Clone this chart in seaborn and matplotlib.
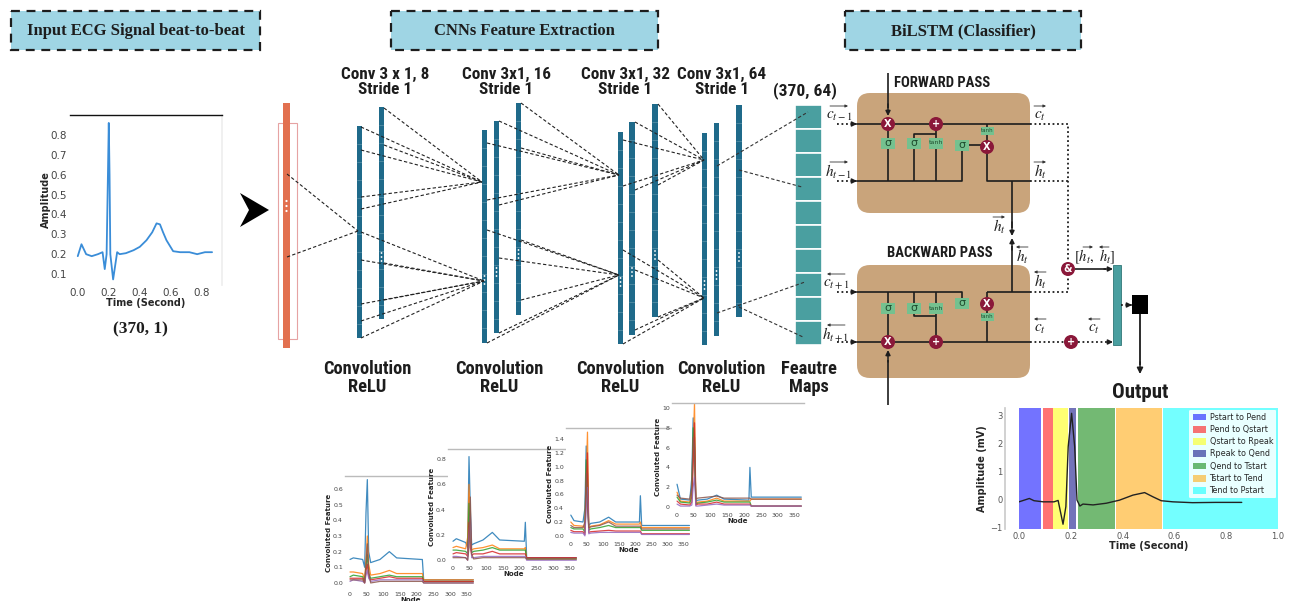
import matplotlib
matplotlib.use("Agg")
import matplotlib.pyplot as plt
import seaborn as sns
import pandas as pd
from matplotlib import font_manager
from matplotlib.patches import Rectangle, FancyBboxPatch, Circle, Polygon, Patch

# ---------------- data ----------------
# input beat (seconds, normalised amplitude)
ecg_time = [0.0, 0.024, 0.054, 0.09, 0.13, 0.16, 0.174, 0.186, 0.195, 0.2, 0.205,
            0.21, 0.228, 0.254, 0.27, 0.31, 0.36, 0.4, 0.443, 0.48, 0.508, 0.53,
            0.55, 0.572, 0.615, 0.66, 0.72, 0.77, 0.82, 0.866]
ecg_amp = [0.19, 0.25, 0.20, 0.19, 0.20, 0.21, 0.125, 0.20, 0.62, 0.86, 0.60,
           0.20, 0.073, 0.21, 0.20, 0.205, 0.22, 0.237, 0.27, 0.31, 0.355, 0.35,
           0.31, 0.27, 0.215, 0.21, 0.21, 0.20, 0.21, 0.21]

# segmented output beat (seconds, mV)
out_time = [0.0, 0.04, 0.058, 0.094, 0.135, 0.151, 0.17, 0.181, 0.19, 0.203, 0.215,
            0.224, 0.235, 0.247, 0.286, 0.337, 0.388, 0.44, 0.485, 0.517, 0.549,
            0.594, 0.67, 0.76, 0.86]
out_amp = [-0.10, 0.02, -0.06, -0.10, -0.10, -0.05, -0.90, -0.27, 1.87, 3.06, 1.87,
           -0.04, -0.25, -0.18, -0.21, -0.15, -0.04, 0.14, 0.23, 0.08, -0.06,
           -0.10, -0.13, -0.12, -0.12]

segment_labels = ["Pstart to Pend", "Pend to Qstart", "Qstart to Rpeak", "Rpeak to Qend",
                  "Qend to Tstart", "Tstart to Tend", "Tend to Pstart"]
segment_start = [0.0, 0.093, 0.133, 0.194, 0.227, 0.375, 0.556]
segment_end = [0.086, 0.131, 0.191, 0.222, 0.370, 0.551, 1.0]
segment_colors = ["blue", "red", "yellow", "navy", "green", "orange", "cyan"]

conv_titles = ["Conv 3 x 1, 8\nStride 1", "Conv 3x1, 16\nStride 1",
               "Conv 3x1, 32\nStride 1", "Conv 3x1, 64\nStride 1"]

# convolved feature maps sampled at shared node positions
feature_nodes = [0, 10, 38, 44, 48, 52, 56, 62, 90, 118, 140, 214, 217, 221, 370]
conv1_maps = [
    [0.15, 0.16, 0.15, 0.10, 0.45, 0.66, 0.20, 0.13, 0.15, 0.20, 0.16, 0.15, 0.15, 0.02, 0.02],
    [0.07, 0.07, 0.06, 0.02, 0.15, 0.30, 0.12, 0.05, 0.06, 0.08, 0.06, 0.06, 0.06, 0.02, 0.02],
    [0.04, 0.05, 0.04, 0.01, 0.10, 0.18, 0.06, 0.03, 0.04, 0.05, 0.04, 0.04, 0.04, 0.01, 0.01],
    [0.03, 0.03, 0.03, 0.00, 0.08, 0.12, 0.04, 0.02, 0.03, 0.04, 0.03, 0.03, 0.03, 0.01, 0.01],
    [0.01, 0.02, 0.01, 0.00, 0.05, 0.08, 0.03, 0.01, 0.02, 0.02, 0.02, 0.02, 0.02, 0.00, 0.00],
    [0.02, 0.02, 0.02, 0.00, 0.12, 0.25, 0.08, 0.00, 0.01, 0.01, 0.01, 0.01, 0.01, 0.00, 0.00],
]
conv2_maps = [
    [0.15, 0.17, 0.14, 0.10, 0.82, 0.40, 0.12, 0.13, 0.16, 0.22, 0.16, 0.15, 0.30, 0.02, 0.02],
    [0.10, 0.11, 0.09, 0.18, 0.60, 0.25, 0.08, 0.09, 0.10, 0.12, 0.09, 0.09, 0.10, 0.01, 0.01],
    [0.08, 0.08, 0.07, 0.05, 0.45, 0.15, 0.06, 0.07, 0.08, 0.10, 0.08, 0.08, 0.08, 0.01, 0.01],
    [0.05, 0.06, 0.05, 0.03, 0.30, 0.10, 0.04, 0.05, 0.05, 0.07, 0.05, 0.05, 0.05, 0.02, 0.02],
    [0.03, 0.03, 0.02, 0.00, 0.20, 0.35, 0.02, 0.02, 0.03, 0.03, 0.03, 0.03, 0.03, 0.00, 0.00],
    [0.02, 0.02, 0.02, 0.00, 0.10, 0.50, 0.05, 0.01, 0.02, 0.02, 0.02, 0.02, 0.02, 0.01, 0.01],
]
conv3_maps = [
    [0.30, 0.22, 0.20, 0.40, 1.30, 0.60, 0.15, 0.18, 0.20, 0.27, 0.20, 0.20, 0.58, 0.15, 0.15],
    [0.20, 0.15, 0.14, 0.10, 0.80, 1.50, 0.10, 0.14, 0.16, 0.22, 0.17, 0.17, 0.20, 0.12, 0.12],
    [0.12, 0.10, 0.10, 0.05, 1.10, 0.90, 0.08, 0.10, 0.12, 0.15, 0.12, 0.12, 0.12, 0.08, 0.08],
    [0.08, 0.06, 0.06, 0.02, 0.60, 1.20, 0.05, 0.06, 0.07, 0.08, 0.07, 0.07, 0.07, 0.03, 0.03],
    [0.05, 0.04, 0.04, 0.00, 0.40, 0.70, 0.03, 0.04, 0.05, 0.05, 0.05, 0.05, 0.05, 0.02, 0.02],
    [0.15, 0.12, 0.12, 0.20, 0.90, 0.40, 0.12, 0.13, 0.15, 0.20, 0.14, 0.14, 0.14, 0.10, 0.10],
]
conv4_maps = [
    [2.3, 0.8, 0.7, 3.0, 9.0, 5.0, 0.6, 0.7, 0.8, 1.2, 0.8, 0.7, 4.0, 1.0, 1.0],
    [1.5, 0.6, 0.5, 1.5, 6.0, 10.5, 0.4, 0.5, 0.6, 0.9, 0.6, 0.6, 0.6, 0.8, 0.8],
    [1.0, 0.5, 0.4, 1.0, 8.0, 7.0, 0.3, 0.4, 0.5, 0.7, 0.5, 0.5, 0.5, 0.1, 0.1],
    [0.6, 0.3, 0.2, 0.5, 4.0, 8.5, 0.2, 0.3, 0.3, 0.5, 0.3, 0.3, 0.3, 0.1, 0.1],
    [0.3, 0.1, 0.1, 0.2, 2.0, 3.0, 0.1, 0.1, 0.2, 0.3, 0.2, 0.2, 0.2, 0.1, 0.1],
    [1.2, 0.9, 0.8, 2.0, 7.0, 6.0, 0.8, 0.9, 1.0, 1.1, 0.9, 0.9, 0.9, 0.8, 0.8],
]

# ---------------- style ----------------
sns.set_theme(style="white")
available = {f.name for f in font_manager.fontManager.ttflist}
COND = next((n for n in ["Liberation Sans Narrow", "Roboto Condensed", "Open Sans Condensed"]
             if n in available), "Roboto")
NARROW = COND != "Roboto"
SERIF = "Liberation Serif"
plt.rcParams["font.family"] = ["DejaVu Sans"]
plt.rcParams["mathtext.fontset"] = "stix"

W, H = 1290, 601
fig = plt.figure(figsize=(W / 100, H / 100), dpi=100)
fig.patch.set_facecolor("white")
ax = fig.add_axes([0, 0, 1, 1])
ax.set_xlim(0, W)
ax.set_ylim(H, 0)
ax.axis("off")
ax.patch.set_alpha(0)


def px_axes(x0, y0, x1, y1):
    return fig.add_axes([x0 / W, 1 - y1 / H, (x1 - x0) / W, (y1 - y0) / H])


def cond_size(s):
    return s if NARROW else s * 0.82


INK = "#1d1d1d"
BAR = "#1f6a8a"
TEAL = "#4a9fa0"
TAN = "#c9a47b"
MAROON = "#8a1839"
GATE = "#74c18f"

# ---------------- section headers ----------------
for x0, x1, label in [(11, 260, "Input ECG Signal beat-to-beat"),
                      (391, 658, "CNNs Feature Extraction"),
                      (845, 1081, "BiLSTM (Classifier)")]:
    ax.add_patch(Rectangle((x0, 11), x1 - x0, 39, facecolor="#9fd5e4",
                           edgecolor=INK, lw=1.6, linestyle=(0, (4, 3))))
    ax.text((x0 + x1) / 2, 31, label, ha="center", va="center", fontsize=12,
            fontweight="bold", family=SERIF, color=INK)

# ---------------- input beat ----------------
ax_ecg = px_axes(70, 115, 222, 285)
sns.lineplot(x=ecg_time, y=ecg_amp, ax=ax_ecg, color="#3a8dd8", lw=1.3)
ax_ecg.set_xlim(-0.05, 0.93)
ax_ecg.set_ylim(0.045, 0.9)
ax_ecg.set_xticks([0.0, 0.2, 0.4, 0.6, 0.8])
ax_ecg.set_yticks([0.1, 0.2, 0.3, 0.4, 0.5, 0.6, 0.7, 0.8])
ax_ecg.tick_params(labelsize=7.5, colors="#444444", length=0, pad=2)
ax_ecg.set_xlabel("Time (Second)", fontsize=7, fontweight="bold", labelpad=0)
ax_ecg.set_ylabel("Amplitude", fontsize=7, fontweight="bold", labelpad=0)
for side in ["left", "bottom"]:
    ax_ecg.spines[side].set_visible(False)
ax_ecg.spines["top"].set_color("#111111")
ax_ecg.spines["top"].set_linewidth(1.0)
ax_ecg.spines["right"].set_color("#eeeeee")
ax.text(140, 329, "(370, 1)", ha="center", va="center", fontsize=12.5,
        fontweight="bold", family=SERIF, color=INK)

# arrow head into the network
ax.add_patch(Polygon([(240, 193), (269, 210), (240, 227), (249, 210)], closed=True,
                     facecolor="black", edgecolor="none"))

# input column
ax.add_patch(Rectangle((278, 123), 19, 216, facecolor="none", edgecolor="#e6a3a3", lw=0.8))
ax.add_patch(Rectangle((283, 103), 7, 245, facecolor="#e2704f", edgecolor="none", zorder=2))
for yy in [201, 206, 211]:
    ax.add_patch(Circle((286.5, yy), 1.1, facecolor="white", edgecolor="none", zorder=3))

# ---------------- convolution stacks ----------------
bars = [(357, 362, 126, 338, None), (379, 384, 107, 319, 257),
        (482, 487, 130, 343, 280), (494, 499, 121, 333, 272), (516, 521, 103, 315, 254),
        (618, 623, 132, 344, 282), (629, 635, 122, 335, 272), (652, 658, 104, 317, 255),
        (702, 707, 133, 345, 285), (714, 719, 123, 336, 275), (736, 742, 105, 317, 257)]
for x0, x1, y0, y1, dy in bars:
    ax.add_patch(Rectangle((x0, y0), x1 - x0, y1 - y0, facecolor=BAR, edgecolor="none", zorder=2))
    yy = y0 + 18
    while yy < y1 - 5:
        ax.plot([x0, x1], [yy, yy], color="white", lw=0.4, alpha=0.35, zorder=2.1)
        yy += 18
    if dy is not None:
        for k in (-4, 0, 4):
            ax.add_patch(Circle(((x0 + x1) / 2, dy + k), 0.9, facecolor="white",
                                edgecolor="none", zorder=3))

links = [
    ((358, 231), [(287, 174), (287, 257)]),
    ((482, 182), [(361, 127), (361, 150), (384, 108), (384, 145), (361, 197), (361, 209)]),
    ((484, 281), [(361, 232), (361, 260), (384, 263), (361, 304), (384, 300), (361, 321), (361, 338)]),
    ((619, 175), [(521, 103), (499, 121), (487, 143), (521, 148), (487, 200), (499, 205)]),
    ((619, 275), [(487, 230), (521, 240), (499, 258), (521, 300), (499, 333), (487, 343)]),
    ((704, 160), [(658, 104), (635, 122), (623, 140), (658, 185), (635, 190), (623, 186)]),
    ((704, 298), [(623, 250), (658, 260), (635, 270), (658, 317), (635, 330), (623, 344)]),
]
for (tx, ty), sources in links:
    for sx, sy in sources:
        ax.plot([sx, tx], [sy, ty], color="#222222", lw=0.8, ls=(0, (3, 2)), zorder=4)
for (sx, sy), (tx, ty) in [((717, 166), (808, 112)), ((739, 170), (802, 187)),
                           ((717, 313), (805, 282)), ((739, 307), (803, 337))]:
    ax.plot([sx, tx], [sy, ty], color="#333333", lw=0.8, ls=(0, (3, 2)), zorder=4)

for cx, title in zip([385, 506, 625, 722], conv_titles):
    ax.text(cx, 82, title, ha="center", va="center", fontsize=cond_size(12.3),
            fontweight="bold", family=COND, color=INK, linespacing=0.95)
for cx in [367, 499, 620, 721]:
    ax.text(cx, 378, "Convolution\nReLU", ha="center", va="center", fontsize=cond_size(13.2),
            fontweight="bold", family=COND, color=INK, linespacing=0.98)
ax.text(809, 378, "Feautre\nMaps", ha="center", va="center", fontsize=cond_size(13.2),
        fontweight="bold", family=COND, color=INK, linespacing=0.98)
ax.text(805, 91, "(370, 64)", ha="center", va="center", fontsize=cond_size(12.5),
        fontweight="bold", family=COND, color=INK)

# feature-map column
for i in range(10):
    y0 = 105 + i * 24
    ax.add_patch(Rectangle((795, y0), 27, 24, facecolor=TEAL, edgecolor="white", lw=1.2, zorder=2))

# ---------------- BiLSTM cells ----------------
for y0, hgt in [(93, 120), (265, 113)]:
    ax.add_patch(FancyBboxPatch((857, y0), 173, hgt, boxstyle="round,pad=0,rounding_size=13",
                                facecolor=TAN, edgecolor="none", zorder=1))
ax.text(942, 83, "FORWARD PASS", ha="center", va="center", fontsize=cond_size(10.5),
        fontweight="bold", family=COND, color=INK)
ax.text(940, 253, "BACKWARD PASS", ha="center", va="center", fontsize=cond_size(10.5),
        fontweight="bold", family=COND, color=INK)


def seg(pts, **kw):
    xs, ys = zip(*pts)
    ax.plot(xs, ys, color=kw.get("color", INK), lw=kw.get("lw", 1.2),
            ls=kw.get("ls", "-"), zorder=kw.get("zorder", 3), solid_capstyle="butt")


def head(x0, y0, x1, y1, scale=7):
    ax.annotate("", xy=(x1, y1), xytext=(x0, y0),
                arrowprops=dict(arrowstyle="-|>", color=INK, lw=1.1, mutation_scale=scale,
                                shrinkA=0, shrinkB=0), zorder=6)


def dotted_arrow(x0, y0, x1, y1):
    seg([(x0, y0), (x1, y1)], ls=(0, (1, 1.5)), lw=1.3)
    dx, dy = x1 - x0, y1 - y0
    n = max(abs(dx), abs(dy))
    head(x1 - 4 * dx / n, y1 - 4 * dy / n, x1, y1)


def node(x, y, sym, r=7):
    ax.add_patch(Circle((x, y), r, facecolor=MAROON, edgecolor="none", zorder=5))
    ax.text(x, y + 0.3, sym, ha="center", va="center", color="white", fontsize=7,
            fontweight="bold", zorder=6)


def gate(x, y, sym, w=14, h=11, size=8):
    ax.add_patch(Rectangle((x - w / 2, y - h / 2), w, h, facecolor=GATE, edgecolor="none", zorder=5))
    ax.text(x, y, sym, ha="center", va="center", fontsize=size, color="#1f4d2f", zorder=6)


def vec(x, y, s, direction, w=18, size=11):
    ax.text(x, y, s, ha="center", va="center", fontsize=size, color=INK, zorder=6)
    ya = y - 10
    a, b = (x - w / 2, x + w / 2) if direction == "r" else (x + w / 2, x - w / 2)
    ax.annotate("", xy=(b, ya), xytext=(a, ya),
                arrowprops=dict(arrowstyle="-|>", color="#333333", lw=0.6, mutation_scale=4,
                                shrinkA=0, shrinkB=0), zorder=6)


# forward cell wiring
seg([(857, 124), (1030, 124)])
seg([(857, 181), (962, 181), (962, 145), (987, 145)])
seg([(888, 181), (888, 124)])
seg([(914, 181), (914, 134), (936, 134)])
seg([(936, 181), (936, 124)])
seg([(987, 124), (987, 181), (1030, 181)])
seg([(1012, 181), (1012, 228)])
head(1012, 222, 1012, 236)
seg([(888, 73), (888, 108)])
head(888, 104, 888, 116)
node(888, 124, "X")
node(936, 124, "+")
node(987, 147, "X")
gate(888, 143, "σ")
gate(914, 143, "σ")
gate(936, 143, "tanh", size=4.5)
gate(962, 145, "σ")
gate(987, 131, "tanh", w=13, h=8, size=4)

# backward cell wiring
seg([(857, 292), (962, 292), (962, 303)])
seg([(987, 292), (1030, 292)])
seg([(987, 292), (987, 342)])
seg([(888, 292), (888, 342)])
seg([(914, 292), (914, 316), (936, 316)])
seg([(936, 292), (936, 342)])
seg([(857, 342), (1030, 342)])
seg([(1012, 292), (1012, 246)])
head(1012, 250, 1012, 238)
seg([(888, 405), (888, 360)])
head(888, 362, 888, 350)
node(888, 342, "X")
node(936, 342, "+")
node(987, 304, "X")
gate(888, 308, "σ")
gate(914, 308, "σ")
gate(936, 308, "tanh", size=4.5)
gate(962, 303, "σ")
gate(987, 317, "tanh", w=13, h=8, size=4)

# inputs into the cells
for yy in [124, 181, 292, 342]:
    dotted_arrow(837, yy, 857, yy)
vec(839, 116, r"$c_{t-1}$", "r")
vec(839, 172, r"$h_{t-1}$", "r")
vec(836, 284, r"$c_{t+1}$", "l")
vec(836, 335, r"$h_{t+1}$", "l")

# outputs of the cells
seg([(1030, 124), (1068, 124), (1068, 262)], ls=(0, (1, 1.5)), lw=1.3)
seg([(1030, 181), (1068, 181)], ls=(0, (1, 1.5)), lw=1.3)
seg([(1030, 292), (1068, 292), (1068, 276)], ls=(0, (1, 1.5)), lw=1.3)
seg([(1030, 342), (1064, 342)], ls=(0, (1, 1.5)), lw=1.3)
dotted_arrow(1078, 342, 1113, 342)
node(1068, 269, "&")
node(1071, 342, "+")
seg([(1075, 269), (1106, 269)])
head(1104, 269, 1113, 269)
vec(1040, 116, r"$c_t$", "r", w=12)
vec(1040, 172, r"$h_t$", "r", w=12)
vec(1040, 282, r"$h_t$", "l", w=12)
vec(1040, 329, r"$c_t$", "l", w=12)
vec(1094, 329, r"$c_t$", "l", w=12)
vec(999, 227, r"$h_t$", "r", w=12)
vec(1022, 257, r"$h_t$", "l", w=12)
ax.text(1095, 257, r"$[h_t,\ h_t]$", ha="center", va="center", fontsize=10.5, color=INK, zorder=6)
for xa, d in [(1088, "r"), (1104, "l")]:
    a, b = (xa - 5, xa + 5) if d == "r" else (xa + 5, xa - 5)
    ax.annotate("", xy=(b, 247), xytext=(a, 247),
                arrowprops=dict(arrowstyle="-|>", color="#333333", lw=0.6, mutation_scale=4,
                                shrinkA=0, shrinkB=0), zorder=6)

# dense output
ax.add_patch(Rectangle((1113, 265), 8, 80, facecolor=TEAL, edgecolor="#2f7777", lw=0.6, zorder=3))
dotted_arrow(1121, 305, 1132, 305)
ax.add_patch(Rectangle((1132, 295), 16, 19, facecolor="black", edgecolor="none", zorder=3))
seg([(1140, 314), (1140, 365)], lw=1.3)
head(1140, 362, 1140, 374, scale=9)
ax.text(1140, 393, "Output", ha="center", va="center", fontsize=cond_size(15),
        fontweight="bold", family=COND, color=INK)

# ---------------- segmented output chart ----------------
ax_out = px_axes(1019, 408, 1278, 529)
for s, e, c in zip(segment_start, segment_end, segment_colors):
    ax_out.axvspan(s, e, color=c, alpha=0.55, lw=0)
sns.lineplot(x=out_time, y=out_amp, ax=ax_out, color="#222222", lw=1.0)
ax_out.set_xlim(-0.0, 1.0)
ax_out.set_ylim(-1.07, 3.25)
ax_out.set_xticks([0.0, 0.2, 0.4, 0.6, 0.8, 1.0])
ax_out.set_yticks([-1, 0, 1, 2, 3])
ax_out.tick_params(labelsize=6, colors="#555555", length=0, pad=2)
ax_out.set_xlabel("Time (Second)", fontsize=7, fontweight="bold", labelpad=0)
ax_out.set_ylabel("Amplitude (mV)", fontsize=7, fontweight="bold", labelpad=2)
for side in ["top", "right", "bottom"]:
    ax_out.spines[side].set_visible(False)
ax_out.spines["left"].set_position(("outward", 10))
ax_out.spines["left"].set_color("#cccccc")
handles = [Patch(facecolor=c, alpha=0.55, edgecolor="none") for c in segment_colors]
leg = ax_out.legend(handles, segment_labels, loc="upper right", fontsize=5.8, frameon=True,
                    framealpha=0.85, edgecolor="none", handlelength=1.6, handleheight=0.9,
                    handletextpad=0.5, labelspacing=0.4, borderpad=0.4, borderaxespad=0.2)
leg.get_frame().set_facecolor("white")

# ---------------- feature-map traces ----------------
palette = sns.color_palette("tab10")
small = [
    (conv1_maps, (345, 476, 476, 590), (-0.045, 0.683), [0.0, 0.1, 0.2, 0.3, 0.4, 0.5, 0.6]),
    (conv2_maps, (448, 449, 579, 564), (-0.03, 0.88), [0.0, 0.2, 0.4, 0.6, 0.8]),
    (conv3_maps, (566, 428, 692, 540), (-0.06, 1.56), [0.0, 0.2, 0.4, 0.6, 0.8, 1.0, 1.2, 1.4]),
    (conv4_maps, (672, 403, 804, 511), (-0.4, 10.5), [0, 2, 4, 6, 8, 10]),
]
for maps, (x0, y0, x1, y1), ylim, yt in small:
    sax = px_axes(x0, y0, x1, y1)
    rows = []
    for ch, vals in enumerate(maps):
        for n, v in zip(feature_nodes, vals):
            rows.append({"Node": n, "value": v, "channel": ch})
    df = pd.DataFrame(rows)
    sns.lineplot(data=df, x="Node", y="value", hue="channel", palette=palette[:len(maps)],
                 ax=sax, lw=0.9, legend=False, alpha=0.85)
    sax.set_xlim(-15, 378)
    sax.set_ylim(*ylim)
    sax.set_xticks([0, 50, 100, 150, 200, 250, 300, 350])
    sax.set_yticks(yt)
    sax.tick_params(labelsize=4.5, colors="#444444", length=0, pad=1.5)
    sax.set_xlabel("Node", fontsize=5, fontweight="bold", labelpad=0)
    sax.set_ylabel("Convoluted Feature", fontsize=5, fontweight="bold", labelpad=1)
    for side in ["left", "bottom", "right"]:
        sax.spines[side].set_visible(False)
    sax.spines["top"].set_color("#bbbbbb")
    sax.spines["top"].set_linewidth(1.0)

fig.savefig("out.png", dpi=100, facecolor="white")
